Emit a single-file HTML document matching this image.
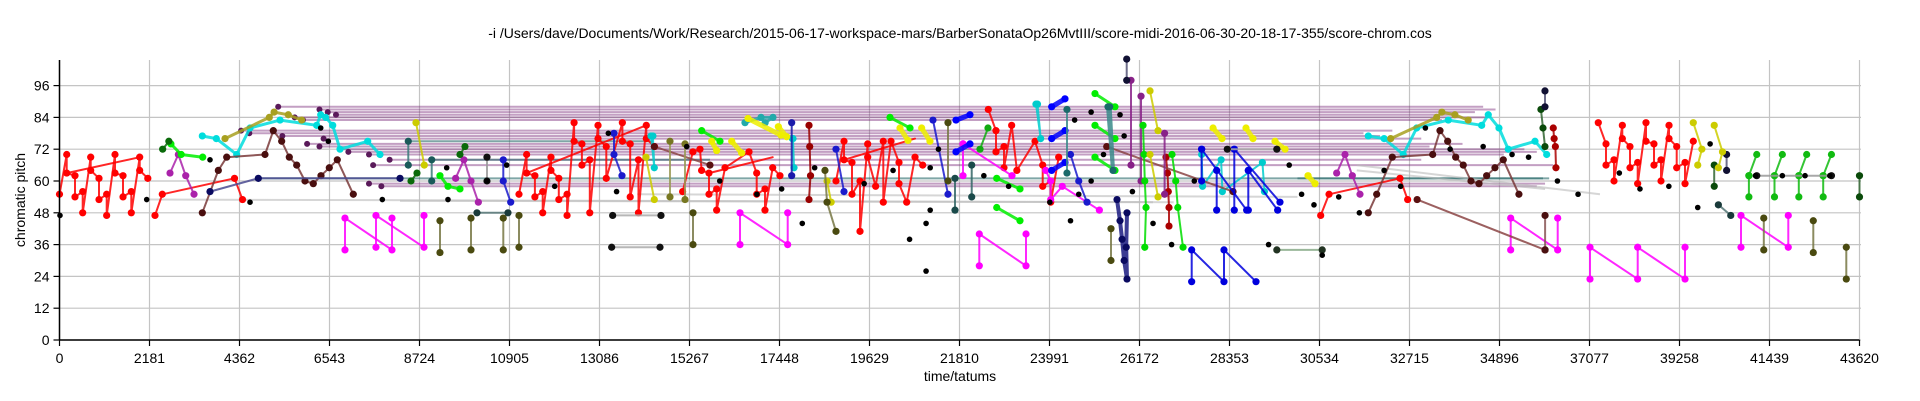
<!DOCTYPE html>
<html><head><meta charset="utf-8"><style>
html,body{margin:0;padding:0;background:#fff;}
svg{display:block;font-family:"Liberation Sans",sans-serif;}
</style></head><body>
<svg id="chart" width="1920" height="401" viewBox="0 0 1920 401" xmlns="http://www.w3.org/2000/svg">
<text x="960" y="38" font-size="14" text-anchor="middle" fill="#000">-i /Users/dave/Documents/Work/Research/2015-06-17-workspace-mars/BarberSonataOp26MvtIII/score-midi-2016-06-30-20-18-17-355/score-chrom.cos</text>
<g id="grid"></g>
<g id="bands"></g>
<g id="series"></g>
<g id="axes"></g>
<text transform="translate(25,200) rotate(-90)" font-size="14" text-anchor="middle">chromatic pitch</text>
<text x="960" y="381" font-size="14" text-anchor="middle">time/tatums</text>
</svg>
<script>
const xTicks = [0,2181,4362,6543,8724,10905,13086,15267,17448,19629,21810,23991,26172,28353,30534,32715,34896,37077,39258,41439,43620];
const yTicks = [0,12,24,36,48,60,72,84,96];

// sustained purple/teal horizontal notes: [start, end, pitch]
const bandStart = [5300,6300,6500,6700,5700,5900,4400,4600,5400,6400,6000,6300,6800,7000,7500,8000,7600,7500,7800];
const bandEnd   = [34500,34800,34300,33800,34600,33500,32300,31600,32000,33000,34000,33200,35500,35800,35000,33000,36200,36000,35800];
const bandPitch = [88,87,86,85,84,83,79,78,77,76,74,73,72,71,70,68,66,59,58];
const tealStart = [8452,9020,4818,30000];
const tealEnd   = [14383,15763,36100,35950];
const tealPitch = [75,68,61,61];
const grayStart = [2113,8252,31436,31436,14000];
const grayEnd   = [26500,27000,37331,36000,30000];
const grayPitchA= [53,52.5,66,64,55];
const grayPitchB= [52,52,55,57,54];

// series: arrays of [time, pitch]
const red1 = [[0,55],[175,70],[175,63],[375,62],[375,54],[562,56],[562,48],[756,69],[756,64],[957,61],[957,53],[1143,55],[1143,47],[1345,70],[1345,63],[1539,62],[1539,54],[1740,56],[1740,48],[1943,69],[1943,64],[2140,61]];
const red1b = [[175,63],[1943,69]];
const red2 = [[2314,47],[2491,55],[4241,61],[4435,53]];
const red3 = [[11135,55],[11320,70],[11320,63],[11520,62],[11520,54],[11710,56],[11710,48],[11910,69],[11910,64],[12100,61],[12100,53],[12300,55],[12300,47],[12470,82],[12470,75],[12660,74],[12660,66],[12850,68],[12850,48],[13050,81],[13050,76],[13250,73],[13250,61],[13640,82],[13640,75],[13830,74],[13830,54],[14030,68],[14030,48],[14220,81],[14220,76],[14420,73]];
const red3b = [[11320,63],[14220,81]];
const red4 = [[15100,56],[15350,71],[15521,72],[15560,64],[15739,63],[15739,55],[15925,57],[15925,49],[16127,65],[16709,71],[16895,63],[16895,55],[17096,57],[17096,49],[17283,65],[17459,62]];
const red4b = [[15739,63],[17283,69]];
const red5 = [[18817,60],[19011,75],[19011,68],[19205,67],[19205,55],[19399,60],[19399,41],[19585,74],[19585,69],[19778,58],[19963,75],[19963,52],[20150,75],[20344,67],[20344,59],[20530,52],[20732,69],[20918,66]];
const red5b = [[19011,68],[20732,76]];
const red6 = [[22508,87],[22694,79],[22694,71],[22888,73],[22888,65],[23074,81],[23200,64],[23640,75],[23826,66],[23826,58],[24020,60],[24020,52],[24214,69]];
const red7 = [[30563,47],[30765,55],[32484,61],[32670,53]];
const red8 = [[37290,82],[37477,74],[37477,66],[37671,68],[37671,60],[37873,81],[37873,76],[38058,73],[38058,65],[38244,67],[38244,59],[38446,82],[38446,75],[38639,74],[38639,66],[38810,68],[38810,60],[39004,81],[39004,76],[39190,73],[39190,65],[39392,67],[39392,59],[39592,75]];
const darkred1 = [[26815,69],[26850,63],[26870,56],[26887,50],[26887,43]];
const darkred2 = [[36199,80],[36220,76],[36250,73],[36264,65]];
const darkred3 = [[18163,81],[18180,73],[18200,62],[18163,53]];
const mag1 = [[6918,34],[6918,46],[8057,34],[8057,46]];
const mag2 = [[7669,35],[7669,47],[8833,35],[8833,47]];
const mag3 = [[16491,36],[16491,48],[17646,36],[17646,48]];
const mag4 = [[22290,28],[22290,40],[23422,28],[23422,40]];
const mag5 = [[35167,34],[35167,46],[36306,34],[36306,46]];
const mag6 = [[37089,23],[37089,35],[38244,23],[38244,35],[39392,23],[39392,35]];
const mag7 = [[40748,35],[40748,47],[41894,35],[41894,47]];
const mag8 = [[21895,74],[21895,62],[21895,74],[23082,62]];
const mag9 = [[23900,64],[24020,60],[24020,53],[24300,58],[25200,49]];
const cyan1 = [[3461,77],[3800,76],[4294,70],[4617,80],[5344,83],[6233,81],[6330,85],[6450,84],[6621,81],[6798,72],[7469,75],[7767,70]];
const cyan2 = [[31716,77],[32100,76],[32564,70],[32889,80],[33655,83],[34464,81],[34624,85],[34883,80],[35108,72],[35756,75],[36040,70]];
const cyan3 = [[14334,77],[14414,65],[14380,77]];
const cyan4 = [[17775,76],[17800,65],[17760,76]];
const cyan5 = [[23663,89],[23777,76],[23700,89]];
const cyan6 = [[27678,70],[27700,58],[28150,68],[28180,56],[29150,67],[29200,56]];
const olive1 = [[4011,76],[5084,84],[5200,86],[5544,85],[5869,83]];
const olive2 = [[32259,76],[33373,84],[33500,86],[33815,85],[34138,83]];
const brown1 = [[3461,48],[3849,64],[4052,69],[4980,70],[5181,79],[5384,75],[5569,69],[5748,66],[5949,60],[6150,59],[6337,62],[6538,65],[6732,68],[7120,55]];
const brown2 = [[31716,48],[31920,55],[32298,69],[33277,70],[33454,79],[33640,75],[33834,69],[34018,66],[34205,60],[34399,59],[34585,62],[34786,65],[34988,68],[35367,55]];
const brown3 = [[25377,73],[28438,56]];
const brown4 = [[32900,53],[36000,34]];
const brown5 = [[14414,73],[15763,66]];
const purp1 = [[2678,63],[2880,70],[3059,62],[3260,55]];
const purp2 = [[30950,63],[31152,70],[31329,62],[31515,55]];
const purp3 = [[9600,61],[9800,68],[9972,60],[10150,52]];
const purp4 = [[25966,98],[25966,66]];
const purp5 = [[26209,92],[26209,60]];
const purp6 = [[26780,78],[26780,55]];
const grn1 = [[2700,74],[2950,70],[3470,69]];
const grn2 = [[9220,62],[9414,58],[9705,57]];
const grn3 = [[15562,79],[16006,75]];
const grn4 = [[20126,84],[20611,80]];
const grn5 = [[25093,93],[25578,88]];
const grn6 = [[25093,81],[25578,76]];
const grn7 = [[25093,69],[25578,64]];
const grn8 = [[26257,81],[26280,70],[26300,60],[26330,50],[26300,35]];
const grn9 = [[26960,70],[27050,60],[27100,50],[27227,35]];
const grn10 = [[40940,62],[40940,54],[40940,62],[41130,70]];
const grn11 = [[41560,62],[41560,54],[41560,62],[41750,70]];
const grn12 = [[42150,62],[42150,54],[42150,62],[42340,70]];
const grn13 = [[42740,62],[42740,54],[42740,62],[42940,70]];
const grn14 = [[22712,50],[23276,45]];
const grn15 = [[22712,61],[23276,57]];
const grn16 = [[22307,72],[22500,80]];
const dgrn1 = [[2500,72],[2650,75]];
const dgrn2 = [[8518,60],[8663,63]];
const dgrn3 = [[9705,70],[9826,73]];
const dgrn4 = [[35900,87],[35950,80],[35998,73]];
const dgrn5 = [[40100,66],[40100,58]];
const dgrn6 = [[43620,62],[43620,54]];
const blue1 = [[27436,22],[27436,34],[28219,22],[28219,34],[28995,22]];
const blue2 = [[27678,72],[27678,60],[27678,72],[28769,49]];
const blue3 = [[28042,64],[28042,49]];
const blue4 = [[28469,72],[28469,49],[28469,72],[29576,52]];
const blue5 = [[28809,64],[28809,49],[28809,64],[29520,49]];
const blue6 = [[13437,78],[13437,70],[13631,62]];
const blue7 = [[17743,82],[17743,62]];
const blue8 = [[18817,72],[19011,56]];
const blue9 = [[21167,83],[21531,55]];
const blue10 = [[21725,83],[22064,85]];
const blue11 = [[21725,71],[22064,74]];
const blue12 = [[24044,88],[24366,91]];
const blue13 = [[24044,76],[24366,79]];
const blue14 = [[24044,64],[24366,67]];
const blue15 = [[10754,68],[10754,60],[10934,52]];
const blue16 = [[24500,70],[24700,60],[24900,52]];
const navy1 = [[3647,56],[4818,61],[8252,61]];
const navy2 = [[25627,53],[25700,45],[25750,38],[25800,30],[25869,23],[25850,35],[25869,48]];
const navy3 = [[25862,106],[25862,98]];
const navy4 = [[35998,94],[35998,88]];
const navy5 = [[40400,70],[40400,64]];
const teal1 = [[8452,75],[8452,66]];
const teal2 = [[9020,68],[9020,60]];
const teal3 = [[16612,82],[17000,84],[17290,84],[17100,82]];
const teal4 = [[24414,87],[24414,63]];
const teal5 = [[25408,88],[25530,64],[25450,88]];
const teal6 = [[21701,61],[21701,49]];
const teal7 = [[22106,66],[22106,54]];
const yel1 = [[8639,82],[8840,66]];
const yel2 = [[14213,69],[14414,53]];
const yel3 = [[15805,75],[15925,71.5]];
const yel4 = [[16290,75],[16530,70.6]];
const yel5 = [[16685,83.6],[17485,77.3]];
const yel6 = [[17420,80.5],[17622,76.7]];
const yel7 = [[20368,80],[20562,75.3]];
const yel8 = [[20893,80],[21094,75]];
const yel9 = [[26427,94],[26621,79]];
const yel10 = [[26427,70],[26621,54]];
const yel11 = [[27954,80],[28172,76]];
const yel12 = [[28753,80],[28923,76]];
const yel13 = [[29456,75],[29699,72]];
const yel14 = [[30256,62],[30426,59]];
const yel15 = [[39592,82],[39800,72],[39700,66]];
const yel16 = [[40100,81],[40300,71],[40200,65]];
const yel17 = [[18600,60],[18700,52]];
const dolive1 = [[9220,45],[9220,33]];
const dolive2 = [[9972,46],[9972,34]];
const dolive3 = [[10754,46],[10754,34]];
const dolive4 = [[11135,47],[11135,35]];
const dolive5 = [[15352,48],[15352,36]];
const dolive6 = [[14794,75],[14794,54]];
const dolive7 = [[15158,74],[15158,53]];
const dolive8 = [[18550,64],[18600,52],[18817,41]];
const dolive9 = [[21531,82],[21531,60]];
const dolive10 = [[25481,42],[25481,30]];
const dolive11 = [[41300,46],[41300,34]];
const dolive12 = [[42500,45],[42500,33]];
const dolive13 = [[43300,35],[43300,23]];
const dolive14 = [[36000,47],[36000,34]];
const darkteal1 = [[10117,48],[10868,48]];
const darkteal2 = [[40200,51],[40500,47]];
const gray1 = [[13405,47],[14576,47]];
const gray2 = [[13381,35],[14552,35]];
const gray3 = [[29500,34],[30600,34]];
const gray4 = [[28300,72],[29500,72]];
const gray5 = [[41130,62],[42940,62]];
const gray6 = [[10359,60],[10359,69]];
const dots = [[12,47],[2113,53],[3647,68],[4617,52],[6330,80],[6514,75],[7823,53],[9383,65],[9414,53],[10359,60],[10836,66],[12000,58],[13500,56],[13300,78],[15200,73],[16000,60],[16900,55],[17500,57],[18300,65],[18000,44],[19500,59],[20200,64],[20600,38],[21000,44],[21300,72],[21100,65],[21100,49],[21000,26],[22400,62],[23000,58],[24000,52],[24500,45],[24700,55],[25000,60],[25300,70],[25700,85],[25800,77],[26000,56],[26500,44],[26950,36],[27500,60],[29300,36],[29800,66],[30100,55],[30400,51],[30600,32],[31000,54],[31500,48],[32100,64],[32500,58],[33100,80],[33700,72],[34500,73],[35600,69],[36800,55],[37800,63],[38300,57],[39000,58],[39700,50],[40000,74],[41100,62],[41750,62],[42300,62],[42900,62],[36300,60],[35200,70],[24600,83],[25000,86]];

const SER = [
 {d:red1,c:"#ff0000"},{d:red1b,c:"#ff0000",nm:1},{d:red2,c:"#ff0000"},{d:red3,c:"#ff0000"},{d:red3b,c:"#ff0000",nm:1},{d:red4,c:"#ff0000"},{d:red4b,c:"#ff0000",nm:1},{d:red5,c:"#ff0000"},{d:red5b,c:"#ff0000",nm:1},{d:red6,c:"#ff0000"},{d:red7,c:"#ff0000"},{d:red8,c:"#ff0000"},
 {d:darkred1,c:"#aa0000"},{d:darkred2,c:"#aa0000"},{d:darkred3,c:"#990000"},
 {d:mag1,c:"#ff00ff"},{d:mag2,c:"#ff00ff"},{d:mag3,c:"#ff00ff"},{d:mag4,c:"#ff00ff"},{d:mag5,c:"#ff00ff"},{d:mag6,c:"#ff00ff"},{d:mag7,c:"#ff00ff"},{d:mag8,c:"#ff00ff"},{d:mag9,c:"#ff00ff"},
 {d:cyan1,c:"#00dddd",w:3},{d:cyan2,c:"#00dddd",w:3},{d:cyan3,c:"#00cccc"},{d:cyan4,c:"#00cccc"},{d:cyan5,c:"#00cccc"},{d:cyan6,c:"#00cccc"},
 {d:olive1,c:"#a8a020",w:3},{d:olive2,c:"#a8a020",w:3},
 {d:brown1,c:"#7a3a3a",m:"#4a0f0f"},{d:brown2,c:"#7a3a3a",m:"#4a0f0f"},{d:brown3,c:"#8b4444",m:"#5a1010"},{d:brown4,c:"#8b4444",m:"#5a1010"},{d:brown5,c:"#8b4444",m:"#5a1010"},
 {d:purp1,c:"#aa22aa"},{d:purp2,c:"#aa22aa"},{d:purp3,c:"#aa22aa"},{d:purp4,c:"#882288"},{d:purp5,c:"#882288"},{d:purp6,c:"#882288"},
 {d:grn1,c:"#00ee00",w:3},{d:grn2,c:"#00ee00",w:3},{d:grn3,c:"#00ee00",w:3},{d:grn4,c:"#00ee00",w:3},{d:grn5,c:"#00ee00",w:3},{d:grn6,c:"#00ee00",w:3},{d:grn7,c:"#00ee00",w:3},{d:grn8,c:"#00dd00"},{d:grn9,c:"#00dd00"},
 {d:grn10,c:"#11bb11"},{d:grn11,c:"#11bb11"},{d:grn12,c:"#11bb11"},{d:grn13,c:"#11bb11"},{d:grn14,c:"#00ee00",w:3},{d:grn15,c:"#00ee00",w:3},{d:grn16,c:"#11aa11"},
 {d:dgrn1,c:"#0a6a0a"},{d:dgrn2,c:"#0a6a0a"},{d:dgrn3,c:"#0a6a0a"},{d:dgrn4,c:"#336633",m:"#0a4a0a"},{d:dgrn5,c:"#336633",m:"#0a4a0a"},{d:dgrn6,c:"#336633",m:"#0a4a0a"},
 {d:blue1,c:"#0000dd"},{d:blue2,c:"#0000dd"},{d:blue3,c:"#0000dd"},{d:blue4,c:"#0000dd"},{d:blue5,c:"#0000dd"},{d:blue6,c:"#1a1acc"},{d:blue7,c:"#1a1aaa"},{d:blue8,c:"#1a1acc"},{d:blue9,c:"#1a1acc"},
 {d:blue10,c:"#0000ff",w:5},{d:blue11,c:"#0000ff",w:5},{d:blue12,c:"#0000ff",w:5},{d:blue13,c:"#0000ff",w:5},{d:blue14,c:"#0000ff",w:5},{d:blue15,c:"#1a1acc"},{d:blue16,c:"#1a1acc"},
 {d:navy1,c:"#4a4a90",m:"#0a0a60"},{d:navy2,c:"#1a1a80",m:"#0a0a60",w:4},{d:navy3,c:"#555577",m:"#111133"},{d:navy4,c:"#555577",m:"#111133"},{d:navy5,c:"#555577",m:"#111133"},
 {d:teal1,c:"#3a7a7a",m:"#1a5a5a"},{d:teal2,c:"#3a7a7a",m:"#1a5a5a"},{d:teal3,c:"#22aaaa",w:3},{d:teal4,c:"#3a8a8a",m:"#1a6a6a"},{d:teal5,c:"#3a8a8a",m:"#1a6a6a",w:4},{d:teal6,c:"#336666",m:"#1a4a4a"},{d:teal7,c:"#336666",m:"#1a4a4a"},
 {d:yel1,c:"#cccc00"},{d:yel2,c:"#cccc00"},{d:yel3,c:"#eeee00",w:5},{d:yel4,c:"#eeee00",w:5},{d:yel5,c:"#eeee00",w:5},{d:yel6,c:"#eeee00",w:5},{d:yel7,c:"#eeee00",w:5},{d:yel8,c:"#eeee00",w:5},{d:yel9,c:"#cccc00"},{d:yel10,c:"#cccc00"},
 {d:yel11,c:"#eeee00",w:5},{d:yel12,c:"#eeee00",w:5},{d:yel13,c:"#eeee00",w:5},{d:yel14,c:"#eeee00",w:5},{d:yel15,c:"#cccc00"},{d:yel16,c:"#cccc00"},{d:yel17,c:"#cccc00"},
 {d:dolive1,c:"#777744",m:"#4a4a10"},{d:dolive2,c:"#777744",m:"#4a4a10"},{d:dolive3,c:"#777744",m:"#4a4a10"},{d:dolive4,c:"#777744",m:"#4a4a10"},{d:dolive5,c:"#777744",m:"#4a4a10"},{d:dolive6,c:"#999955",m:"#777722"},{d:dolive7,c:"#999955",m:"#777722"},{d:dolive8,c:"#777744",m:"#4a4a10"},{d:dolive9,c:"#777744",m:"#4a4a10"},{d:dolive10,c:"#777744",m:"#4a4a10"},{d:dolive11,c:"#777744",m:"#4a4a10"},{d:dolive12,c:"#777744",m:"#4a4a10"},{d:dolive13,c:"#777744",m:"#4a4a10"},{d:dolive14,c:"#885555",m:"#4a1010"},
 {d:darkteal1,c:"#557777",m:"#1a3a3a"},{d:darkteal2,c:"#557777",m:"#1a3a3a"},
 {d:gray1,c:"#aaaaaa",m:"#111"},{d:gray2,c:"#aaaaaa",m:"#111"},{d:gray3,c:"#88aa88",m:"#223322"},{d:gray4,c:"#aaaaaa",m:"#111"},{d:gray5,c:"#999999",m:"#111"},{d:gray6,c:"#999999",m:"#111"}
];

const NS="http://www.w3.org/2000/svg";
const X0=59.5, X1=1859.5, Y0=340, YS=2.65;
function px(t){return X0+(t-xTicks[0])*(X1-X0)/(xTicks[xTicks.length-1]-xTicks[0]);}
function py(p){return Y0-p*YS;}
function mk(tag,attrs,parent){const e=document.createElementNS(NS,tag);for(const k in attrs)e.setAttribute(k,attrs[k]);parent.appendChild(e);return e;}

const grid=document.getElementById('grid'), axes=document.getElementById('axes');
yTicks.forEach(v=>{
  const g=mk('line',{x1:X0,x2:1861,y1:py(v),y2:py(v),stroke:'#c4c4c4','stroke-width':1.2},grid);
  
  
  const tk=mk('line',{x1:X0-6,x2:X0,y1:py(v),y2:py(v),stroke:'#000','stroke-width':1.2},axes);
  
  
  const tx=mk('text',{x:X0-10,y:py(v)+5,'font-size':14,'text-anchor':'end'},axes);
  tx.textContent=v;
  
  
});
xTicks.forEach(v=>{
  const g=mk('line',{x1:px(v),x2:px(v),y1:60,y2:Y0,stroke:'#c4c4c4','stroke-width':1.2},grid);
  
  
  const tk=mk('line',{x1:px(v),x2:px(v),y1:Y0,y2:Y0+6,stroke:'#000','stroke-width':1.2},axes);
  
  
  const tx=mk('text',{x:px(v),y:Y0+23,'font-size':14,'text-anchor':'middle'},axes);
  tx.textContent=v;
  
  
});
const ya=mk('line',{x1:X0,x2:X0,y1:60,y2:Y0,stroke:'#000','stroke-width':1.5},axes);


const xa=mk('line',{x1:X0,x2:X1,y1:Y0,y2:Y0,stroke:'#000','stroke-width':1.5},axes);



const bands=document.getElementById('bands');
bandPitch.forEach((p,i)=>{
  const l=mk('line',{x1:px(bandStart[i]),x2:px(bandEnd[i]),y1:py(p),y2:py(p),stroke:'#7a2a7a','stroke-width':2,'stroke-opacity':0.45},bands);
  
  
  mk('circle',{cx:px(bandStart[i]),cy:py(p),r:3,fill:'#5a1a5a'},bands);
});
tealPitch.forEach((p,i)=>{
  const l=mk('line',{x1:px(tealStart[i]),x2:px(tealEnd[i]),y1:py(p),y2:py(p),stroke:'#2a6a6a','stroke-width':2,'stroke-opacity':0.6},bands);
  
  
});
grayPitchA.forEach((p,i)=>{
  const l=mk('line',{x1:px(grayStart[i]),x2:px(grayEnd[i]),y1:py(p),y2:py(grayPitchB[i]),stroke:'#bbbbbb','stroke-width':2,'stroke-opacity':0.6},bands);
  
  
});

const sg=document.getElementById('series');
SER.forEach(s=>{
  const g=mk('g',{},sg);
  
  
  const pts=s.d.map(q=>px(q[0]).toFixed(1)+','+py(q[1]).toFixed(1)).join(' ');
  mk('polyline',{points:pts,fill:'none',stroke:s.c,'stroke-width':s.w||2,'stroke-opacity':0.85,'stroke-linejoin':'round','stroke-linecap':'round'},g);
  if(!s.nm){
    s.d.forEach(q=>{
      const c=mk('circle',{cx:px(q[0]),cy:py(q[1]),r:3.6,fill:s.m||s.c},g);
      
      
    });
  }
});
const dg=mk('g',{},sg);


dots.forEach(q=>{
  const c=mk('circle',{cx:px(q[0]),cy:py(q[1]),r:2.8,fill:'#000'},dg);
  
  
});
</script>
</body></html>
